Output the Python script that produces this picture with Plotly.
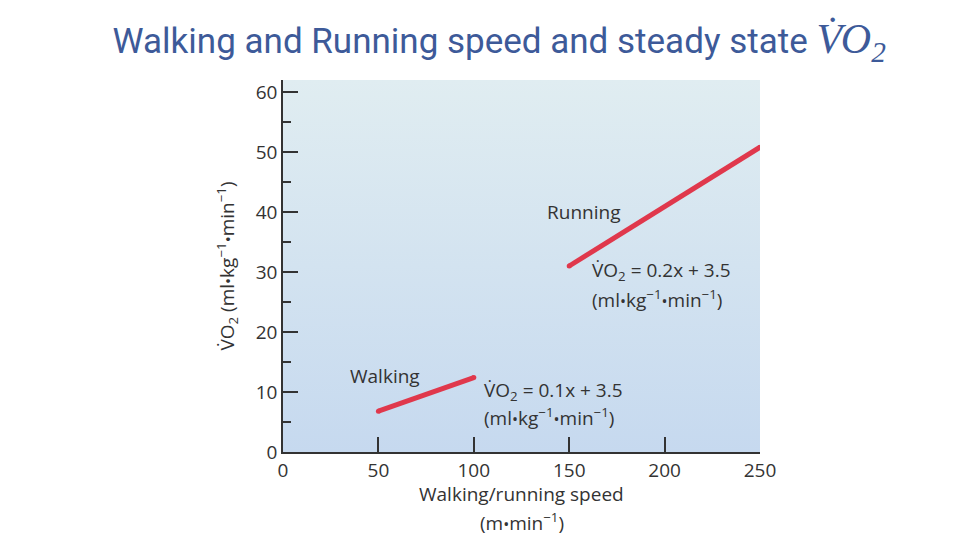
import plotly.graph_objects as go

# Data
walk_speed = [50, 100]
walk_vo2 = [6.8, 12.4]
run_speed = [150, 250]
run_vo2 = [31.0, 50.8]
x_ticks = [0, 50, 100, 150, 200, 250]
y_ticks = [0, 10, 20, 30, 40, 50, 60]
x_range = [0, 250]
y_range = [0, 62]

TXT = "#333333"
RED = "#e0384c"
FONT = "Open Sans"
FS = 19
BUL = "<span style='font-size:16px'>\u2022</span>"
VO2 = "V\u0307O<sub>2</sub>"
UNIT = "(ml" + BUL + "kg<sup>\u22121</sup>" + BUL + "min<sup>\u22121</sup>)"

fig = go.Figure()

# background gradient
fig.add_trace(go.Scatter(
    x=[x_range[0], x_range[1], x_range[1], x_range[0], x_range[0]],
    y=[y_range[0], y_range[0], y_range[1], y_range[1], y_range[0]],
    fill="toself", mode="none",
    fillgradient=dict(type="vertical", colorscale=[[0, "#c6d9ef"], [1, "#e0edf1"]]),
    hoverinfo="skip", showlegend=False))

for xs, ys in [(walk_speed, walk_vo2), (run_speed, run_vo2)]:
    fig.add_trace(go.Scatter(x=xs, y=ys, mode="lines+markers",
                             line=dict(color=RED, width=5),
                             marker=dict(color=RED, size=5),
                             showlegend=False))

ann = [
    (34, 12.6, "Walking"),
    (104.3, 10.2, VO2 + " = 0.1x + 3.5"),
    (104.3, 5.9, UNIT),
    (137.3, 40.0, "Running"),
    (161, 30.1, VO2 + " = 0.2x + 3.5"),
    (161, 25.5, UNIT),
]
for ax_, ay_, t in ann:
    fig.add_annotation(x=ax_, y=ay_, text=t, showarrow=False, xanchor="left",
                       yanchor="middle", font=dict(family=FONT, size=FS, color=TXT))

# x-axis title lines
for yy, t in [(-0.114, "Walking/running speed"),
              (-0.188, "(m" + BUL + "min<sup>\u22121</sup>)")]:
    fig.add_annotation(x=0.5, y=yy, xref="paper", yref="paper", text=t, showarrow=False,
                       xanchor="center", yanchor="middle", font=dict(family=FONT, size=FS, color=TXT))

fig.update_layout(
    width=960, height=540,
    margin=dict(l=283, r=200, t=80, b=88),
    paper_bgcolor="white", plot_bgcolor="white",
    title=dict(
        text="Walking and Running speed and steady state "
             "<span style='font-family:Liberation Serif;font-size:42px'><i>V\u0307O<sub>2</sub></i></span>",
        x=0.52, xanchor="center", y=0.925, yanchor="middle",
        font=dict(family="Roboto", size=35, color="#3d5a99")),
    font=dict(family=FONT, size=FS, color=TXT),
)
fig.update_xaxes(range=x_range, tickvals=x_ticks, ticks="inside", ticklen=15, tickwidth=1.5,
                 tickcolor=TXT, showline=True, linecolor=TXT, linewidth=1.5, showgrid=False,
                 zeroline=False, tickfont=dict(size=FS, color=TXT))
fig.update_yaxes(range=y_range, tickvals=y_ticks, ticks="inside", ticklen=15, tickwidth=1.5,
                 tickcolor=TXT, showline=True, linecolor=TXT, linewidth=1.5, showgrid=False,
                 zeroline=False, tickfont=dict(size=FS, color=TXT),
                 minor=dict(dtick=5, ticks="inside", ticklen=8, tickwidth=1.5, tickcolor=TXT, showgrid=False),
                 title=dict(text=VO2 + " " + UNIT, font=dict(size=FS, color=TXT), standoff=16))

fig.write_html("out.html")
